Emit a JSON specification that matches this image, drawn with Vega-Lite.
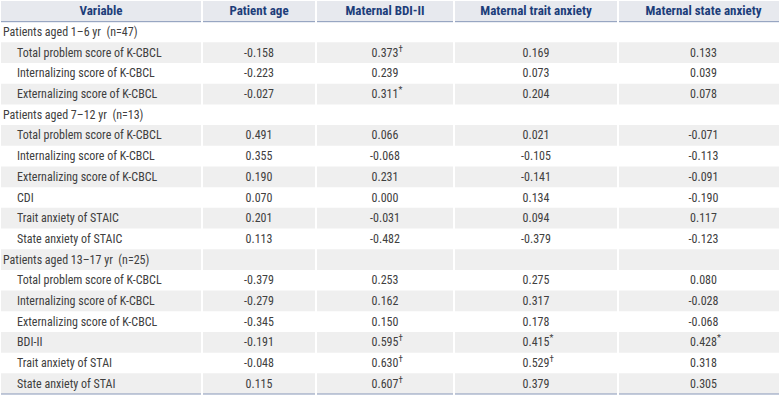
{
  "$schema": "https://vega.github.io/schema/vega-lite/v6.json",
  "padding": 0,
  "spacing": 0,
  "background": "white",
  "config": {
    "view": {"stroke": null},
    "locale": {"number": {"decimal": ".", "thousands": ",", "grouping": [3], "currency": ["$", ""], "minus": "-"}},
    "text": {"font": "'Liberation Sans Narrow', 'Roboto Condensed', 'Roboto', sans-serif", "fontSize": 12, "color": "#404040"}
  },
  "datasets": {
    "headers": [
      {"i": -1, "key": "variable", "title": "Variable"},
      {"i": -1, "key": "age", "title": "Patient age"},
      {"i": -1, "key": "bdi", "title": "Maternal BDI-II"},
      {"i": -1, "key": "trait", "title": "Maternal trait anxiety"},
      {"i": -1, "key": "state", "title": "Maternal state anxiety"}
    ],
    "table": [
      {"i": 0, "kind": "group", "variable": "Patients aged 1–6 yr\u00a0 (n=47)"},
      {"i": 1, "kind": "item", "variable": "Total problem score of K-CBCL", "age": -0.158, "bdi": 0.373, "bdi_sup": "†", "trait": 0.169, "state": 0.133},
      {"i": 2, "kind": "item", "variable": "Internalizing score of K-CBCL", "age": -0.223, "bdi": 0.239, "trait": 0.073, "state": 0.039},
      {"i": 3, "kind": "item", "variable": "Externalizing score of K-CBCL", "age": -0.027, "bdi": 0.311, "bdi_sup": "*", "trait": 0.204, "state": 0.078},
      {"i": 4, "kind": "group", "variable": "Patients aged 7–12 yr\u00a0 (n=13)"},
      {"i": 5, "kind": "item", "variable": "Total problem score of K-CBCL", "age": 0.491, "bdi": 0.066, "trait": 0.021, "state": -0.071},
      {"i": 6, "kind": "item", "variable": "Internalizing score of K-CBCL", "age": 0.355, "bdi": -0.068, "trait": -0.105, "state": -0.113},
      {"i": 7, "kind": "item", "variable": "Externalizing score of K-CBCL", "age": 0.190, "bdi": 0.231, "trait": -0.141, "state": -0.091},
      {"i": 8, "kind": "item", "variable": "CDI", "age": 0.070, "bdi": 0.000, "trait": 0.134, "state": -0.190},
      {"i": 9, "kind": "item", "variable": "Trait anxiety of STAIC", "age": 0.201, "bdi": -0.031, "trait": 0.094, "state": 0.117},
      {"i": 10, "kind": "item", "variable": "State anxiety of STAIC", "age": 0.113, "bdi": -0.482, "trait": -0.379, "state": -0.123},
      {"i": 11, "kind": "group", "variable": "Patients aged 13–17 yr\u00a0 (n=25)"},
      {"i": 12, "kind": "item", "variable": "Total problem score of K-CBCL", "age": -0.379, "bdi": 0.253, "trait": 0.275, "state": 0.080},
      {"i": 13, "kind": "item", "variable": "Internalizing score of K-CBCL", "age": -0.279, "bdi": 0.162, "trait": 0.317, "state": -0.028},
      {"i": 14, "kind": "item", "variable": "Externalizing score of K-CBCL", "age": -0.345, "bdi": 0.150, "trait": 0.178, "state": -0.068},
      {"i": 15, "kind": "item", "variable": "BDI-II", "age": -0.191, "bdi": 0.595, "bdi_sup": "†", "trait": 0.415, "trait_sup": "*", "state": 0.428, "state_sup": "*"},
      {"i": 16, "kind": "item", "variable": "Trait anxiety of STAI", "age": -0.048, "bdi": 0.630, "bdi_sup": "†", "trait": 0.529, "trait_sup": "†", "state": 0.318},
      {"i": 17, "kind": "item", "variable": "State anxiety of STAI", "age": 0.115, "bdi": 0.607, "bdi_sup": "†", "trait": 0.379, "state": 0.305}
    ]
  },
  "hconcat": [
    {
      "width": 200, "height": 393,
      "encoding": {"y": {"field": "i", "type": "ordinal", "scale": {"domain": [-1,0,1,2,3,4,5,6,7,8,9,10,11,12,13,14,15,16,17], "paddingInner": 0, "paddingOuter": 0}, "axis": null}},
      "layer": [
        {"data": {"name": "headers"}, "transform": [{"filter": "datum.key == 'variable'"}], "mark": {"type": "rect", "color": "#e7e9ee"}},
        {"data": {"name": "table"}, "transform": [{"filter": "datum.i % 2 == 1"}], "mark": {"type": "rect", "color": "#efefef"}},
        {"data": {"name": "headers"}, "transform": [{"filter": "datum.key == 'variable'"}], "mark": {"type": "text", "fontWeight": "bold", "fontSize": 13, "color": "#1d3e7a"}, "encoding": {"text": {"field": "title"}}},
        {"data": {"name": "table"}, "transform": [{"filter": "datum.kind == 'group'"}], "mark": {"type": "text", "align": "left", "dx": 2}, "encoding": {"x": {"value": 0}, "text": {"field": "variable"}}},
        {"data": {"name": "table"}, "transform": [{"filter": "datum.kind == 'item'"}], "mark": {"type": "text", "align": "left", "dx": 16}, "encoding": {"x": {"value": 0}, "text": {"field": "variable"}}},
        {"data": {"name": "headers"}, "transform": [{"filter": "datum.key == 'variable'"}], "mark": {"type": "rule", "color": "#8797b8", "strokeWidth": 1}, "encoding": {"y": {"field": "i", "type": "ordinal", "bandPosition": 1}}},
        {"data": {"name": "table"}, "transform": [{"filter": "datum.i == 17"}], "mark": {"type": "rule", "color": "#8797b8", "strokeWidth": 1}, "encoding": {"y": {"field": "i", "type": "ordinal", "bandPosition": 1}}}
      ]
    },
    {
      "width": 112, "height": 393,
      "encoding": {"y": {"field": "i", "type": "ordinal", "scale": {"domain": [-1,0,1,2,3,4,5,6,7,8,9,10,11,12,13,14,15,16,17], "paddingInner": 0, "paddingOuter": 0}, "axis": null}},
      "layer": [
        {"data": {"name": "headers"}, "transform": [{"filter": "datum.key == 'age'"}], "mark": {"type": "rect", "color": "#e7e9ee"}},
        {"data": {"name": "table"}, "transform": [{"filter": "datum.i % 2 == 1"}], "mark": {"type": "rect", "color": "#efefef"}},
        {"data": {"name": "headers"}, "transform": [{"filter": "datum.key == 'age'"}], "mark": {"type": "text", "fontWeight": "bold", "fontSize": 13, "color": "#1d3e7a"}, "encoding": {"text": {"field": "title"}}},
        {"data": {"name": "table"}, "transform": [{"filter": "datum.kind == 'item'"}], "mark": {"type": "text"}, "encoding": {"text": {"field": "age", "type": "quantitative", "format": ".3f"}}},
        {"data": {"name": "headers"}, "transform": [{"filter": "datum.key == 'age'"}], "mark": {"type": "rule", "color": "#8797b8", "strokeWidth": 1}, "encoding": {"y": {"field": "i", "type": "ordinal", "bandPosition": 1}}},
        {"data": {"name": "table"}, "transform": [{"filter": "datum.i == 17"}], "mark": {"type": "rule", "color": "#8797b8", "strokeWidth": 1}, "encoding": {"y": {"field": "i", "type": "ordinal", "bandPosition": 1}}}
      ]
    },
    {
      "width": 136, "height": 393,
      "encoding": {"y": {"field": "i", "type": "ordinal", "scale": {"domain": [-1,0,1,2,3,4,5,6,7,8,9,10,11,12,13,14,15,16,17], "paddingInner": 0, "paddingOuter": 0}, "axis": null}},
      "layer": [
        {"data": {"name": "headers"}, "transform": [{"filter": "datum.key == 'bdi'"}], "mark": {"type": "rect", "color": "#e7e9ee"}},
        {"data": {"name": "table"}, "transform": [{"filter": "datum.i % 2 == 1"}], "mark": {"type": "rect", "color": "#efefef"}},
        {"data": {"name": "headers"}, "transform": [{"filter": "datum.key == 'bdi'"}], "mark": {"type": "text", "fontWeight": "bold", "fontSize": 13, "color": "#1d3e7a"}, "encoding": {"text": {"field": "title"}}},
        {"data": {"name": "table"}, "transform": [{"filter": "datum.kind == 'item'"}], "mark": {"type": "text"}, "encoding": {"text": {"field": "bdi", "type": "quantitative", "format": ".3f"}}},
        {"data": {"name": "table"}, "transform": [{"filter": "datum.bdi_sup"}], "mark": {"type": "text", "align": "left", "dx": 13.5, "dy": -4, "fontSize": 9}, "encoding": {"text": {"field": "bdi_sup"}}},
        {"data": {"name": "headers"}, "transform": [{"filter": "datum.key == 'bdi'"}], "mark": {"type": "rule", "color": "#8797b8", "strokeWidth": 1}, "encoding": {"y": {"field": "i", "type": "ordinal", "bandPosition": 1}}},
        {"data": {"name": "table"}, "transform": [{"filter": "datum.i == 17"}], "mark": {"type": "rule", "color": "#8797b8", "strokeWidth": 1}, "encoding": {"y": {"field": "i", "type": "ordinal", "bandPosition": 1}}}
      ]
    },
    {
      "width": 162, "height": 393,
      "encoding": {"y": {"field": "i", "type": "ordinal", "scale": {"domain": [-1,0,1,2,3,4,5,6,7,8,9,10,11,12,13,14,15,16,17], "paddingInner": 0, "paddingOuter": 0}, "axis": null}},
      "layer": [
        {"data": {"name": "headers"}, "transform": [{"filter": "datum.key == 'trait'"}], "mark": {"type": "rect", "color": "#e7e9ee"}},
        {"data": {"name": "table"}, "transform": [{"filter": "datum.i % 2 == 1"}], "mark": {"type": "rect", "color": "#efefef"}},
        {"data": {"name": "headers"}, "transform": [{"filter": "datum.key == 'trait'"}], "mark": {"type": "text", "fontWeight": "bold", "fontSize": 13, "color": "#1d3e7a"}, "encoding": {"text": {"field": "title"}}},
        {"data": {"name": "table"}, "transform": [{"filter": "datum.kind == 'item'"}], "mark": {"type": "text"}, "encoding": {"text": {"field": "trait", "type": "quantitative", "format": ".3f"}}},
        {"data": {"name": "table"}, "transform": [{"filter": "datum.trait_sup"}], "mark": {"type": "text", "align": "left", "dx": 13.5, "dy": -4, "fontSize": 9}, "encoding": {"text": {"field": "trait_sup"}}},
        {"data": {"name": "headers"}, "transform": [{"filter": "datum.key == 'trait'"}], "mark": {"type": "rule", "color": "#8797b8", "strokeWidth": 1}, "encoding": {"y": {"field": "i", "type": "ordinal", "bandPosition": 1}}},
        {"data": {"name": "table"}, "transform": [{"filter": "datum.i == 17"}], "mark": {"type": "rule", "color": "#8797b8", "strokeWidth": 1}, "encoding": {"y": {"field": "i", "type": "ordinal", "bandPosition": 1}}}
      ]
    },
    {
      "width": 169, "height": 393,
      "encoding": {"y": {"field": "i", "type": "ordinal", "scale": {"domain": [-1,0,1,2,3,4,5,6,7,8,9,10,11,12,13,14,15,16,17], "paddingInner": 0, "paddingOuter": 0}, "axis": null}},
      "layer": [
        {"data": {"name": "headers"}, "transform": [{"filter": "datum.key == 'state'"}], "mark": {"type": "rect", "color": "#e7e9ee"}},
        {"data": {"name": "table"}, "transform": [{"filter": "datum.i % 2 == 1"}], "mark": {"type": "rect", "color": "#efefef"}},
        {"data": {"name": "headers"}, "transform": [{"filter": "datum.key == 'state'"}], "mark": {"type": "text", "fontWeight": "bold", "fontSize": 13, "color": "#1d3e7a"}, "encoding": {"text": {"field": "title"}}},
        {"data": {"name": "table"}, "transform": [{"filter": "datum.kind == 'item'"}], "mark": {"type": "text"}, "encoding": {"text": {"field": "state", "type": "quantitative", "format": ".3f"}}},
        {"data": {"name": "table"}, "transform": [{"filter": "datum.state_sup"}], "mark": {"type": "text", "align": "left", "dx": 13.5, "dy": -4, "fontSize": 9}, "encoding": {"text": {"field": "state_sup"}}},
        {"data": {"name": "headers"}, "transform": [{"filter": "datum.key == 'state'"}], "mark": {"type": "rule", "color": "#8797b8", "strokeWidth": 1}, "encoding": {"y": {"field": "i", "type": "ordinal", "bandPosition": 1}}},
        {"data": {"name": "table"}, "transform": [{"filter": "datum.i == 17"}], "mark": {"type": "rule", "color": "#8797b8", "strokeWidth": 1}, "encoding": {"y": {"field": "i", "type": "ordinal", "bandPosition": 1}}}
      ]
    }
  ]
}
